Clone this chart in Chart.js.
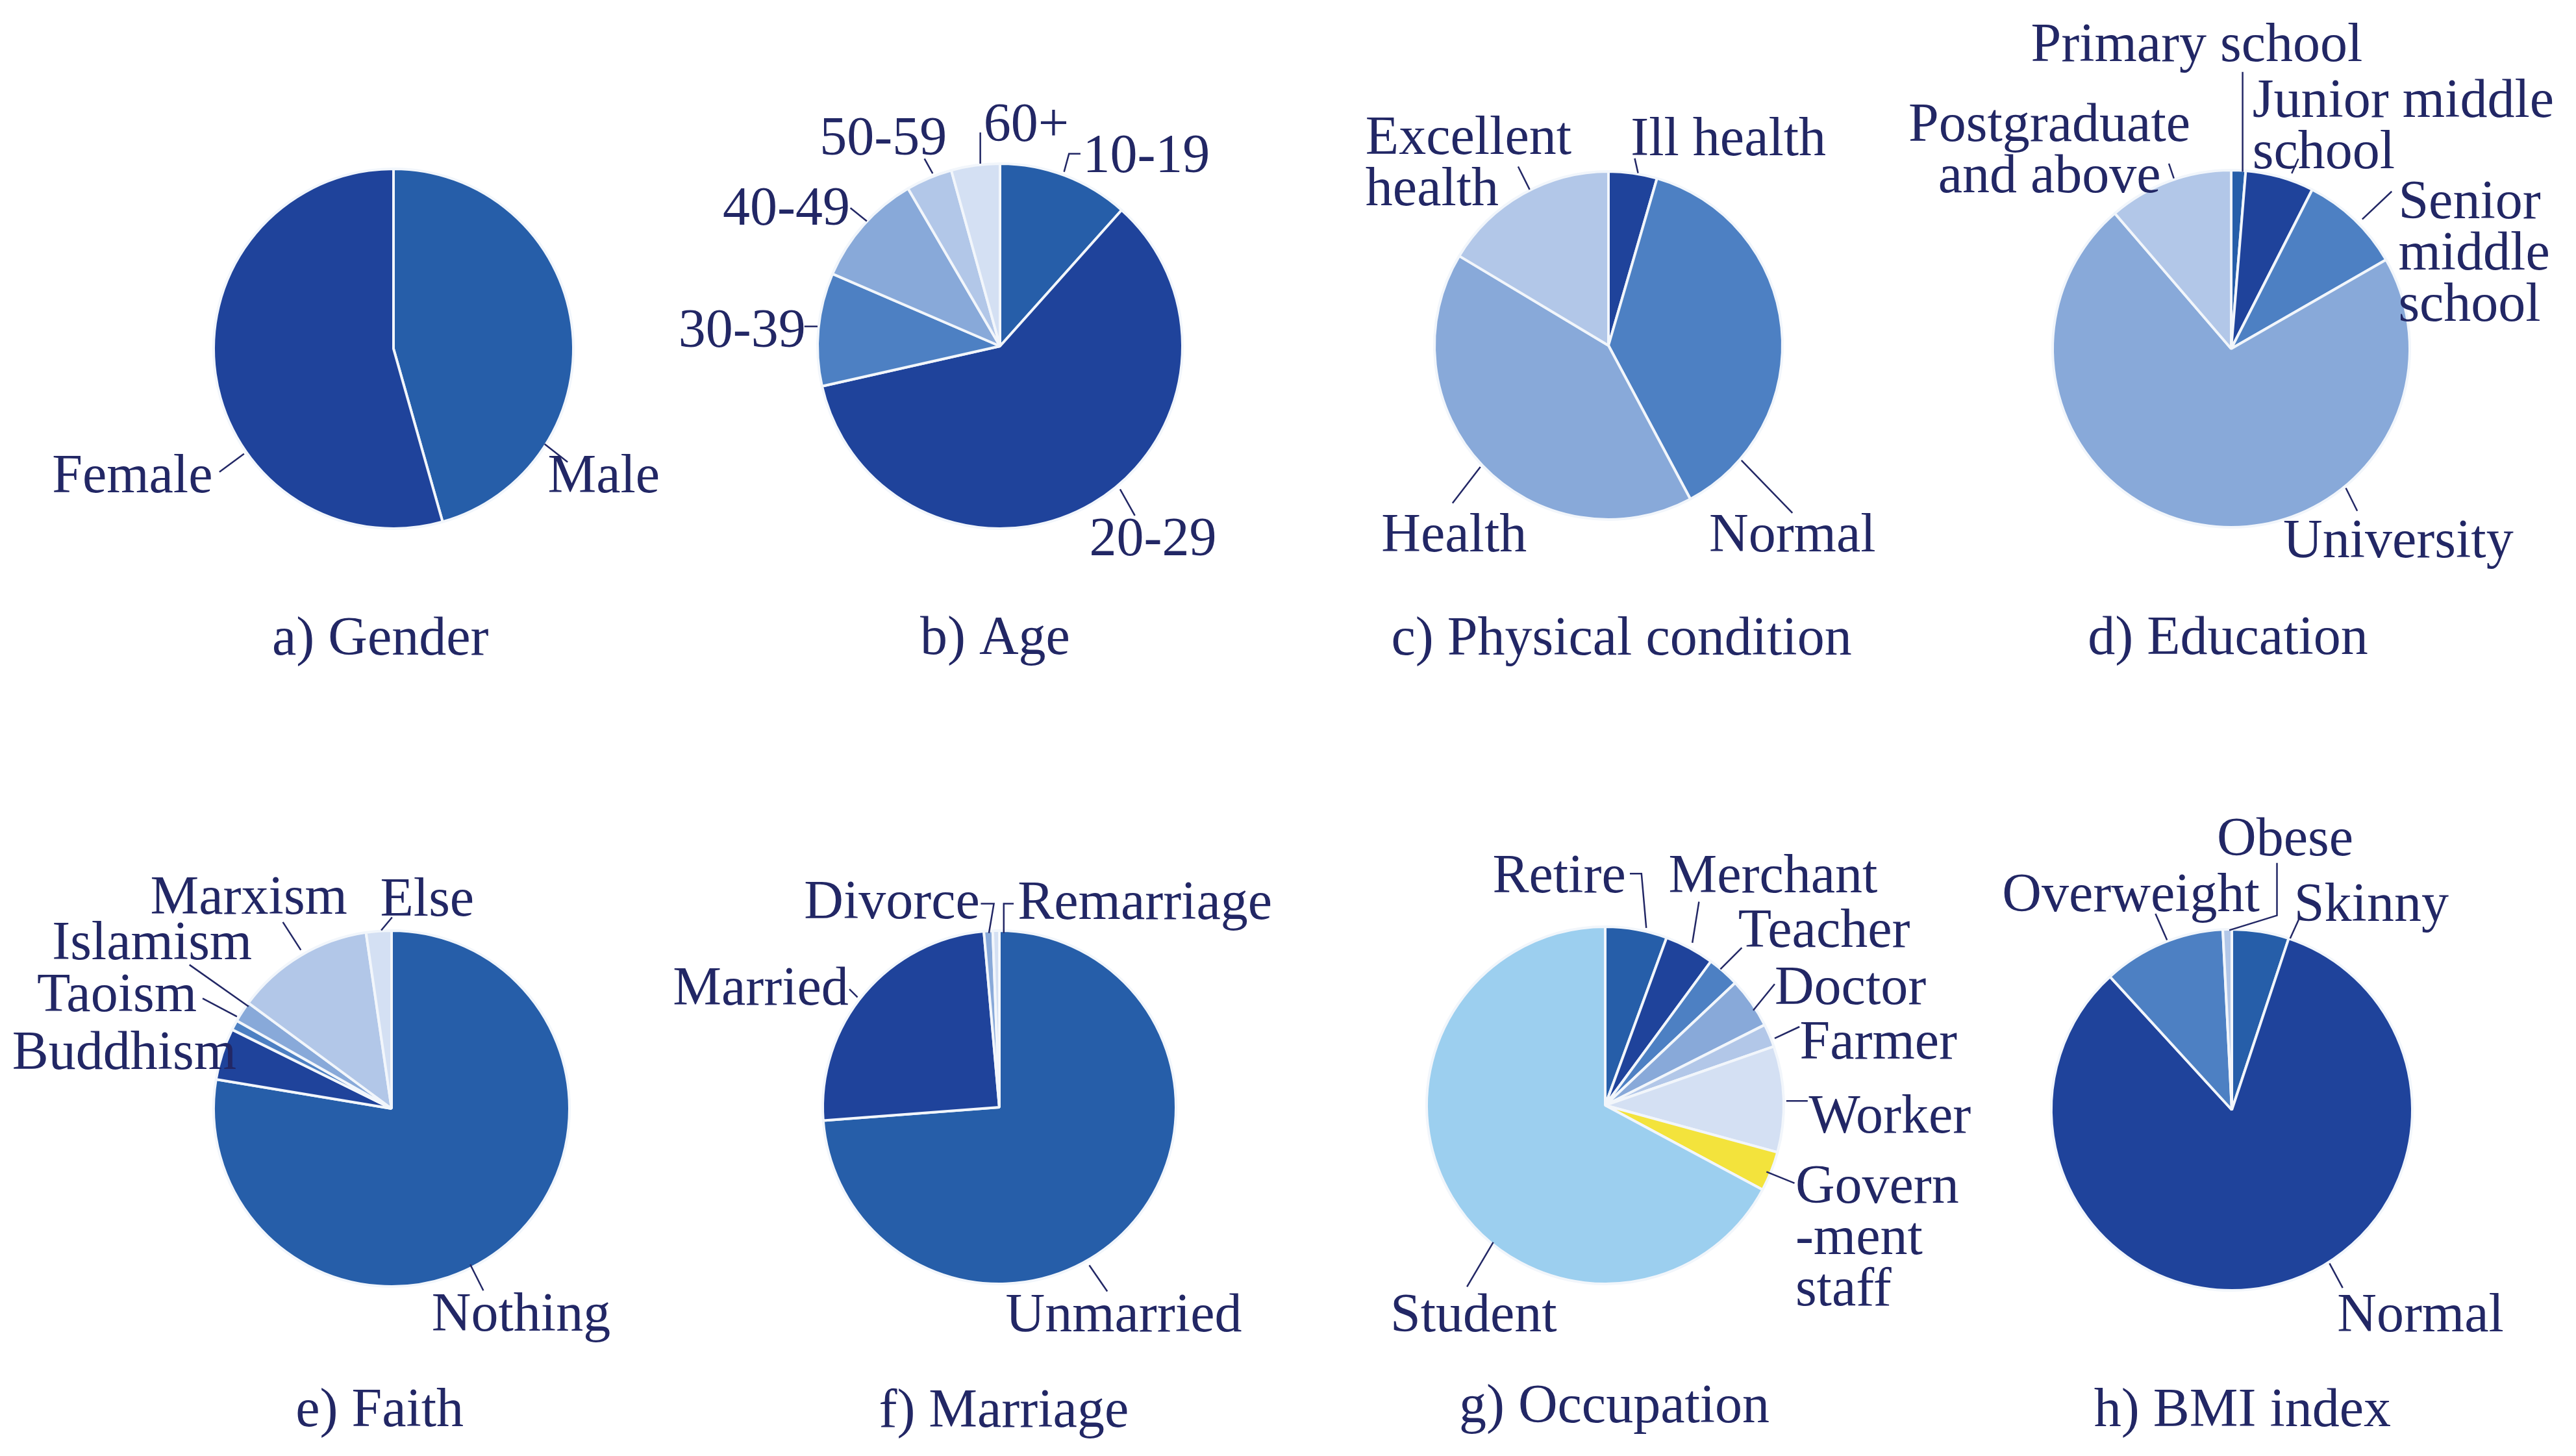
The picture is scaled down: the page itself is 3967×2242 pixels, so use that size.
<!DOCTYPE html>
<html>
<head>
<meta charset="utf-8">
<script src="https://cdn.jsdelivr.net/npm/chart.js@4.4.0/dist/chart.umd.min.js"></script>
<style>
  html, body { margin: 0; padding: 0; background: #fff; overflow: hidden; }
  #wrap { position: relative; width: 3967px; height: 2242px; }
  canvas { position: absolute; }
</style>
</head>
<body>
<div id="wrap"></div>
<script>
// ---- data ----
const genderCats = ['Male', 'Female'];
const genderVals = [45.6, 54.4];

const ageCats = ['10-19', '20-29', '30-39', '40-49', '50-59', '60+'];
const ageVals = [11.6, 59.8, 10.0, 10.1, 4.1, 4.3];

const healthCats = ['Ill health', 'Normal', 'Health', 'Excellent\nhealth'];
const healthVals = [4.5, 37.7, 41.4, 16.4];

const eduCats = ['Primary school', 'Junior middle\nschool', 'Senior\nmiddle\nschool', 'University', 'Postgraduate\nand above'];
const eduVals = [1.3, 6.2, 9.2, 72.0, 11.3];

const faithCats = ['Nothing', 'Buddhism', 'Taoism', 'Islamism', 'Marxism', 'Else'];
const faithVals = [77.7, 4.7, 0.9, 1.9, 12.6, 2.3];

const marriageCats = ['Unmarried', 'Married', 'Divorce', 'Remarriage'];
const marriageVals = [73.8, 24.8, 0.8, 0.6];

const jobCats = ['Retire', 'Merchant', 'Teacher', 'Doctor', 'Farmer', 'Worker', 'Govern\n-ment\nstaff', 'Student'];
const jobVals = [5.6, 4.5, 2.9, 4.6, 2.1, 9.6, 3.6, 67.3];

const bmiCats = ['Skinny', 'Normal', 'Overweight', 'Obese'];
const bmiVals = [5.1, 83.1, 11.0, 0.8];

const captions = ['a) Gender', 'b) Age', 'c) Physical condition', 'd) Education',
                  'e) Faith', 'f) Marriage', 'g) Occupation', 'h) BMI index'];

// ---- colours ----
const DARK = '#1f439b', MID = '#265ea9', B3 = '#4d80c3', B4 = '#88a9d9',
      B5 = '#b2c7e8', B6 = '#d4e0f3', SKY = '#9ccfef', YEL = '#f3e33c';
const TEXT = '#222765';

// ---- layout: pie centre / radius in page px, label anchors in radius units ----
const panels = [
  { cats: genderCats, vals: genderVals, colors: [MID, DARK], cx: 606, cy: 537, r: 277,
    cap: [-0.073, 1.607],
    items: [
      { at: [1.169, 0.703], line: [[0.840, 0.530], [0.968, 0.630]] },
      { at: [-1.452, 0.703], line: [[-0.831, 0.584], [-0.968, 0.685]] }
    ] },
  { cats: ageCats, vals: ageVals, colors: [MID, DARK, B3, B4, B5, B6], cx: 1540, cy: 533, r: 281,
    cap: [-0.027, 1.595],
    items: [
      { at: [0.802, -1.045], line: [[0.351, -0.955], [0.378, -1.054], [0.441, -1.054]] },
      { at: [0.838, 1.054], line: [[0.658, 0.784], [0.739, 0.928]] },
      { at: [-1.414, -0.090], line: [[-1.072, -0.108], [-1.000, -0.108]] },
      { at: [-1.171, -0.757], line: [[-0.820, -0.757], [-0.730, -0.685]] },
      { at: [-0.640, -1.144], line: [[-0.414, -1.027], [-0.369, -0.946]] },
      { at: [0.144, -1.216], line: [[-0.108, -1.171], [-0.108, -1.000]] }
    ] },
  { cats: healthCats, vals: healthVals, colors: [DARK, B3, B4, B5], cx: 2477, cy: 532, r: 268,
    cap: [0.075, 1.679],
    items: [
      { at: [0.689, -1.189], line: [[0.170, -0.991], [0.151, -1.075]] },
      { at: [1.057, 1.085], line: [[0.764, 0.660], [1.057, 0.962]] },
      { at: [-0.887, 1.085], line: [[-0.736, 0.698], [-0.896, 0.906]] },
      { at: [-1.396, -1.198], align: 'left', line: [[-0.453, -0.896], [-0.519, -1.028]] }
    ] },
  { cats: eduCats, vals: eduVals, colors: [MID, DARK, B3, B4, B5], cx: 3436, cy: 537, r: 275,
    cap: [-0.018, 1.615],
    items: [
      { at: [-0.193, -1.706], line: [[0.064, -1.550], [0.064, -0.991]] },
      { at: [0.119, -1.394], align: 'left', line: [[0.376, -1.064], [0.339, -0.982]] },
      { at: [0.936, -0.826], align: 'left', line: [[0.899, -0.881], [0.734, -0.725]] },
      { at: [0.936, 1.073], line: [[0.642, 0.780], [0.706, 0.908]] },
      { at: [-1.018, -1.257], line: [[-0.349, -1.037], [-0.321, -0.954]] }
    ] },
  { cats: faithCats, vals: faithVals, colors: [MID, DARK, B3, B4, B5, B6], cx: 603, cy: 1707, r: 274,
    cap: [-0.067, 1.690],
    items: [
      { at: [0.728, 1.152], line: [[0.442, 0.876], [0.516, 1.023]] },
      { at: [-1.502, -0.316] },
      { at: [-1.544, -0.641], line: [[-1.062, -0.619], [-0.869, -0.517]] },
      { at: [-1.346, -0.935], line: [[-1.136, -0.808], [-0.804, -0.574]] },
      { at: [-0.802, -1.189], line: [[-0.611, -1.048], [-0.510, -0.891]] },
      { at: [0.200, -1.180], line: [[0.003, -1.075], [-0.058, -1.002]] }
    ] },
  { cats: marriageCats, vals: marriageVals, colors: [MID, DARK, B4, B6], cx: 1539, cy: 1705, r: 272,
    cap: [0.025, 1.713],
    items: [
      { at: [0.704, 1.172], line: [[0.509, 0.894], [0.611, 1.042]] },
      { at: [-1.351, -0.678], line: [[-0.849, -0.669], [-0.803, -0.623]] },
      { at: [-0.608, -1.166], line: [[-0.105, -1.153], [-0.031, -1.153], [-0.059, -0.986]] },
      { at: [0.824, -1.162], line: [[0.081, -1.153], [0.025, -1.153], [0.025, -0.986]] }
    ] },
  { cats: jobCats, vals: jobVals, colors: [MID, DARK, B3, B4, B5, B6, YEL, SKY], cx: 2472, cy: 1702, r: 275,
    cap: [0.051, 1.680],
    items: [
      { at: [-0.258, -1.287], line: [[0.138, -1.297], [0.203, -1.297], [0.230, -0.993]] },
      { at: [0.940, -1.287], line: [[0.525, -1.140], [0.488, -0.910]] },
      { at: [1.226, -0.983], line: [[0.765, -0.882], [0.645, -0.762]] },
      { at: [1.373, -0.661], line: [[0.949, -0.679], [0.829, -0.532]] },
      { at: [1.530, -0.357], line: [[1.088, -0.440], [0.949, -0.375]] },
      { at: [1.594, 0.058], line: [[1.014, -0.025], [1.134, -0.025]] },
      { at: [1.065, 0.452], align: 'left', line: [[0.903, 0.372], [1.060, 0.436]] },
      { at: [-0.737, 1.170], line: [[-0.627, 0.767], [-0.774, 1.016]] }
    ] },
  { cats: bmiCats, vals: bmiVals, colors: [MID, DARK, B3, B5], cx: 3437, cy: 1709, r: 278,
    cap: [0.059, 1.657],
    items: [
      { at: [0.773, -1.141], line: [[0.377, -1.068], [0.323, -0.950]] },
      { at: [1.045, 1.132], line: [[0.541, 0.850], [0.614, 0.986]] },
      { at: [-0.559, -1.195], line: [[-0.423, -1.086], [-0.359, -0.941]] },
      { at: [0.295, -1.505], line: [[0.250, -1.368], [0.250, -1.077], [-0.014, -0.995]] }
    ] }
];

const FONT = '84px "Liberation Serif", "Times New Roman", serif';
const LINE_H = 79;
const TEXT_DY = 4;   // nudge so glyph centres sit where the anchors were read
const CW = 1300, CH = 1121;

// draws leader lines, slice labels and the panel caption
const calloutPlugin = {
  id: 'callouts',
  afterDraw(chart, args, opts) {
    const arc = chart.getDatasetMeta(0).data[0];
    if (!arc) return;
    const x = arc.x, y = arc.y, R = arc.outerRadius;
    const ctx = chart.ctx;
    ctx.save();
    ctx.font = FONT;
    ctx.fillStyle = TEXT;
    ctx.strokeStyle = TEXT;
    ctx.lineWidth = 2.5;
    ctx.textBaseline = 'middle';
    opts.items.forEach((it, i) => {
      if (it.line) {
        ctx.beginPath();
        it.line.forEach(([u, v], k) => {
          if (k === 0) ctx.moveTo(x + u * R, y + v * R);
          else ctx.lineTo(x + u * R, y + v * R);
        });
        ctx.stroke();
      }
      ctx.textAlign = it.align || 'center';
      String(chart.data.labels[i]).split('\n').forEach((s, k) => {
        ctx.fillText(s, x + it.at[0] * R, y + it.at[1] * R + k * LINE_H + TEXT_DY);
      });
    });
    ctx.textAlign = 'center';
    ctx.fillText(opts.caption, x + opts.cap[0] * R, y + opts.cap[1] * R + TEXT_DY);
    ctx.restore();
  }
};

const wrap = document.getElementById('wrap');
panels.forEach((p, idx) => {
  const row = idx < 4 ? 0 : 1;
  const top = row * CH;
  const canvas = document.createElement('canvas');
  canvas.width = CW;
  canvas.height = CH;
  canvas.style.width = CW + 'px';
  canvas.style.height = CH + 'px';
  canvas.style.left = (p.cx - CW / 2) + 'px';
  canvas.style.top = top + 'px';
  wrap.appendChild(canvas);

  const cyl = p.cy - top;
  new Chart(canvas, {
    type: 'pie',
    data: {
      labels: p.cats,
      datasets: [{
        data: p.vals,
        backgroundColor: p.colors,
        borderColor: '#f2f6fb',
        borderWidth: 4
      }]
    },
    options: {
      responsive: false,
      animation: false,
      devicePixelRatio: 1,
      radius: p.r,
      layout: {
        padding: { left: CW / 2 - p.r, right: CW / 2 - p.r, top: cyl - p.r, bottom: CH - cyl - p.r }
      },
      plugins: {
        legend: { display: false },
        tooltip: { enabled: false },
        callouts: { items: p.items, cap: p.cap, caption: captions[idx] }
      }
    },
    plugins: [calloutPlugin]
  });
});
</script>
</body>
</html>
